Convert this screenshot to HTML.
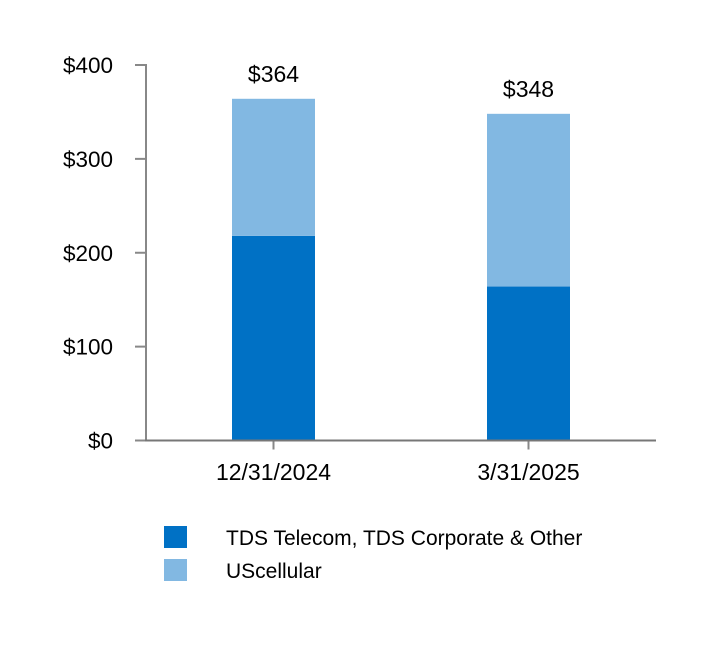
<!DOCTYPE html>
<html><head><meta charset="utf-8">
<style>
html,body{margin:0;padding:0;background:#fff;}
svg{display:block;font-family:"Liberation Sans",Arial,sans-serif;}
</style></head>
<body>
<svg id="chart" width="720" height="662" viewBox="0 0 720 662" xmlns="http://www.w3.org/2000/svg">
<g id="bars"></g>
<g id="axes"></g>
<g>
  <rect x="164" y="526" width="23" height="22" fill="#0071c5"/>
  <text x="226" y="545" font-size="21" fill="#000">TDS Telecom, TDS Corporate &amp; Other</text>
  <rect x="164" y="559" width="23" height="22" fill="#82b8e2"/>
  <text x="226" y="578" font-size="21" fill="#000">UScellular</text>
</g>
</svg>
<script>
const categories = ["12/31/2024", "3/31/2025"];
const tdsValues = [218, 164];
const usValues = [146, 184];
const totalLabels = ["$364", "$348"];
const yTicks = [0, 100, 200, 300, 400];
const yTickLabels = ["$0", "$100", "$200", "$300", "$400"];

const NS = "http://www.w3.org/2000/svg";
const x0 = 146, x1 = 656, yBase = 440.5, yTop = 65;
const yMax = 400;
function yScale(v){ return yBase - (v / yMax) * (yBase - yTop); }
function xCenter(i){ return 273.5 + i * 255; }
const barW = 83;
function mk(tag, attrs, parent){ const e = document.createElementNS(NS, tag); for (const k in attrs) e.setAttribute(k, attrs[k]); parent.appendChild(e); return e; }

const bars = document.getElementById('bars');
const axes = document.getElementById('axes');

categories.forEach((c, i) => {
  const cx = xCenter(i);
  const yT = yScale(tdsValues[i]);
  const r1 = mk('rect', {x: cx - barW/2, y: yT, width: barW, height: yBase - yT, fill: '#0071c5'}, bars);
  
  
  const yU = yScale(tdsValues[i] + usValues[i]);
  const r2 = mk('rect', {x: cx - barW/2, y: yU, width: barW, height: yT - yU, fill: '#82b8e2'}, bars);
  
  
  const t = mk('text', {x: cx, y: yU - 17, 'font-size': 23, 'text-anchor': 'middle', fill: '#000'}, bars);
  t.textContent = totalLabels[i];
  
  
  const tk = mk('line', {x1: cx, x2: cx, y1: yBase, y2: yBase + 9, stroke: '#888', 'stroke-width': 2}, axes);
  
  
  const xl = mk('text', {x: cx, y: 480, 'font-size': 23, 'text-anchor': 'middle', fill: '#000'}, axes);
  xl.textContent = c;
  
  
});

yTicks.forEach((v, i) => {
  const y = yScale(v);
  const tk = mk('line', {x1: 135, x2: x0, y1: y, y2: y, stroke: '#888', 'stroke-width': 2}, axes);
  
  
  const l = mk('text', {x: 113, y: y + 8, 'font-size': 22.5, 'text-anchor': 'end', fill: '#000'}, axes);
  l.textContent = yTickLabels[i];
  
  
});

const ya = mk('line', {x1: x0, x2: x0, y1: yTop - 1, y2: yBase, stroke: '#888', 'stroke-width': 2}, axes);


const xa = mk('line', {x1: x0 - 1, x2: x1, y1: yBase, y2: yBase, stroke: '#777', 'stroke-width': 2}, axes);


</script>
</body></html>
